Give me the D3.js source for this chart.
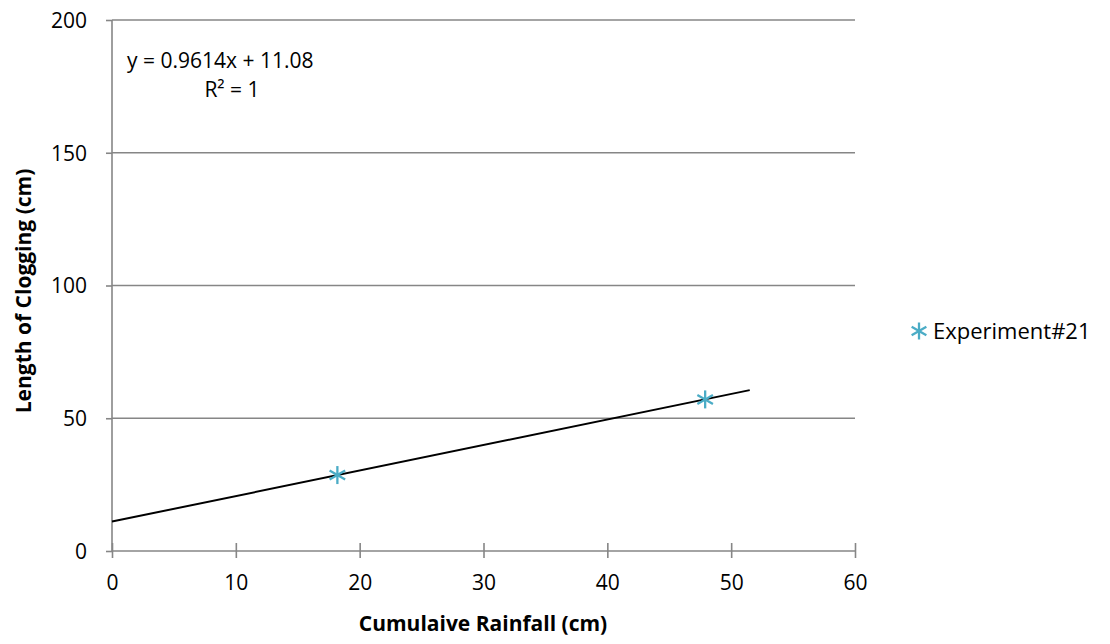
<!DOCTYPE html>
<html><head><meta charset="utf-8">
<script src="https://cdn.jsdelivr.net/npm/d3@7"></script>
<style>body{margin:0;background:#fff}svg{display:block}text{font-family:"Open Sans","Noto Sans",sans-serif;fill:#000}</style>
</head><body><svg id="c" width="1110" height="644"></svg>
<script>
const rainfall = [18.2, 47.9];
const clogging = [28.6, 57.1];
const seriesName = "Experiment#21";
const xTicks = [0, 10, 20, 30, 40, 50, 60];
const yTicks = [0, 50, 100, 150, 200];
const slope = 0.9614, intercept = 11.08, trendStart = 0, trendEnd = 51.5;
const eqText = "y = 0.9614x + 11.08";
const r2Text = "R² = 1";
const xTitle = "Cumulaive Rainfall (cm)";
const yTitle = "Length of Clogging (cm)";

const svg = d3.select("#c");
const L = 112, R = 855, T = 20, B = 551;
const x = d3.scaleLinear().domain([0, 60]).range([L, R]);
const y = d3.scaleLinear().domain([0, 200]).range([B, T]);
const gray = "#868686", teal = "#4BACC6";
const fs = "21px";

// gridlines
svg.append("g").selectAll("line").data(yTicks.filter(d => d > 0)).join("line")
  .attr("x1", L).attr("x2", R).attr("y1", d => y(d)).attr("y2", d => y(d))
  .attr("stroke", gray).attr("stroke-width", 1.6);

// y axis
const ya = svg.append("g").attr("transform", `translate(${L},0)`)
  .call(d3.axisLeft(y).tickValues(yTicks).tickSize(6).tickPadding(19));
ya.select(".domain").attr("stroke", gray).attr("stroke-width", 1.6).attr("d", `M0,${T}V${B}`);
ya.selectAll(".tick line").attr("stroke", gray).attr("stroke-width", 1.6);
ya.selectAll(".tick text").style("font-size", fs).attr("dy", "0.35em");

// x axis
const xa = svg.append("g").attr("transform", `translate(0,${B})`)
  .call(d3.axisBottom(x).tickValues(xTicks).tickSize(7).tickPadding(17));
xa.select(".domain").attr("stroke", gray).attr("stroke-width", 1.6).attr("d", `M${L},0H${R}`);
xa.selectAll(".tick line").attr("stroke", gray).attr("stroke-width", 1.6).attr("y1", -8);
xa.selectAll(".tick text").style("font-size", fs);
svg.selectAll(".domain").attr("fill", "none");

// trendline
svg.append("line")
  .attr("x1", x(trendStart)).attr("y1", y(slope * trendStart + intercept))
  .attr("x2", x(trendEnd)).attr("y2", y(slope * trendEnd + intercept))
  .attr("stroke", "#000").attr("stroke-width", 2);

// asterisk marker
function star(g, cx, cy, r) {
  [90, 30, -30].forEach(deg => {
    const t = deg * Math.PI / 180;
    g.append("line").attr("x1", cx - r * Math.cos(t)).attr("y1", cy - r * Math.sin(t))
      .attr("x2", cx + r * Math.cos(t)).attr("y2", cy + r * Math.sin(t))
      .attr("stroke", teal).attr("stroke-width", 2.3);
  });
}
const mg = svg.append("g");
rainfall.forEach((d, i) => star(mg, x(d), y(clogging[i]), 9));

// equation
svg.append("text").attr("x", 127).attr("y", 68).style("font-size", fs).text(eqText);
svg.append("text").attr("x", 232).attr("y", 97).attr("text-anchor", "middle").style("font-size", fs).text(r2Text);

// legend
const lg = svg.append("g");
star(lg, 919, 331, 8.5);
lg.append("text").attr("x", 933).attr("y", 331).attr("dy", "0.35em").style("font-size", "22px").text(seriesName);

// titles
svg.append("text").attr("x", 483).attr("y", 631).attr("text-anchor", "middle")
  .style("font-size", fs).style("font-weight", "bold").text(xTitle);
svg.append("text").attr("transform", `translate(31,291) rotate(-90)`).attr("text-anchor", "middle")
  .style("font-size", fs).style("font-weight", "bold").text(yTitle);
</script></body></html>
